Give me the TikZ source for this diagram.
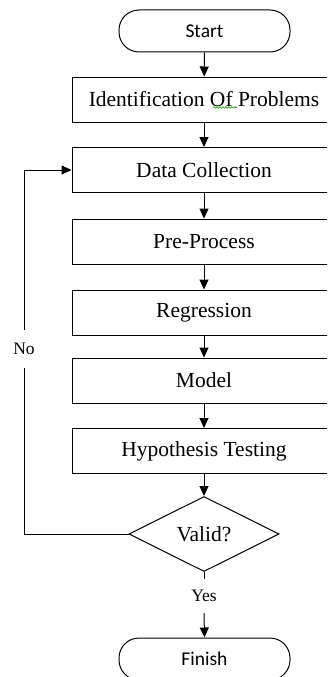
\documentclass[tikz,border=0pt]{standalone}
\usepackage{fontspec}
\setmainfont{Liberation Serif}
\newfontfamily\termfont{Carlito}
\usetikzlibrary{arrows.meta,shapes.geometric,decorations.pathmorphing}

\begin{document}
\begin{tikzpicture}[
  x=1pt, y=-1pt,
  terminal/.style={draw, rounded corners=20pt, minimum width=171pt,
                   minimum height=42pt, line width=1pt,
                   font=\termfont\fontsize{19.5}{22}\selectfont},
  process/.style={draw, minimum width=264pt, minimum height=45pt,
                  line width=1pt, font=\fontsize{21.5}{24}\selectfont},
  decision/.style={draw, diamond, minimum width=150pt, minimum height=75pt,
                   inner sep=0pt, line width=1pt,
                   font=\fontsize{21.5}{24}\selectfont},
  answer/.style={inner sep=0pt, font=\fontsize{17.5}{20}\selectfont},
  flow/.style={line width=1pt, -{Triangle[length=10pt,width=9pt]}}
]
\useasboundingbox (0,0) rectangle (327,677);
\clip (0,0) rectangle (327,677);

\node[terminal] (start) at (204.5,31) {Start};
\node[process] (ident) at (204,99.5) {Identification Of Problems};
\node[process] (data) at (204,170) {Data Collection};
\node[process] (prep) at (204,241.5) {Pre-Process};
\node[process] (regr) at (204,312.5) {Regression};
\node[process] (model) at (204,380.5) {Model};
\node[process] (hypo) at (204,451) {Hypothesis Testing};
\node[decision] (valid) at (204,534) {Valid?};
\node[answer, minimum height=34pt] (yes) at (204,596) {Yes};
\node[terminal] (finish) at (204.5,659) {Finish};
\node[answer, minimum height=38pt] (no) at (24,349) {No};
\coordinate (bend) at (24,534);

% spell-check mark under "Of"
\draw[green!60!black, line width=0.6pt, decorate,
      decoration={snake, amplitude=0.8pt, segment length=3pt}]
  (213,107.5) -- (237,107.5);

\draw[flow] (start) -- (ident);
\draw[flow] (ident) -- (data);
\draw[flow] (data) -- (prep);
\draw[flow] (prep) -- (regr);
\draw[flow] (regr) -- (model);
\draw[flow] (model) -- (hypo);
\draw[flow] (hypo) -- (valid);
\draw[line width=1pt] (valid.south) -- (yes.north);
\draw[flow] (yes.south) -- (finish.north);
\draw[line width=1pt] (valid.west) -- (bend) -- (no.south);
\draw[flow] (no.north) |- (data.west);
\end{tikzpicture}
\end{document}
